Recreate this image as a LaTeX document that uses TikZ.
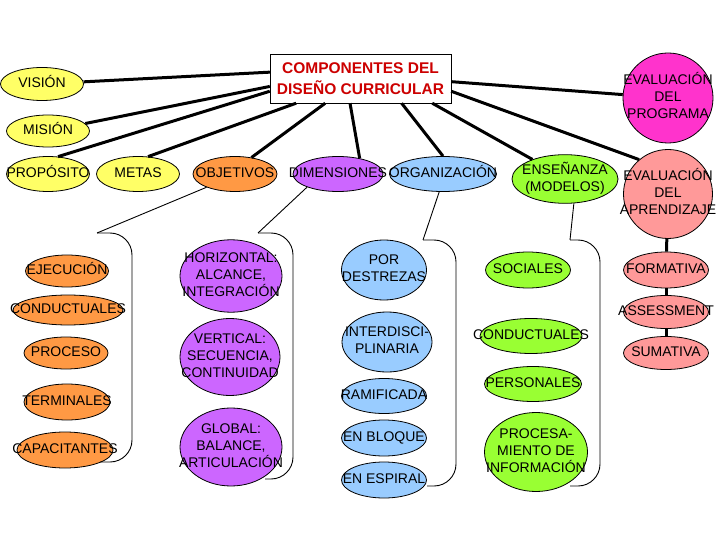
\documentclass[tikz,border=0pt]{standalone}
\usepackage{fontspec}
\setmainfont{Liberation Sans}
\usetikzlibrary{shapes.geometric}
\definecolor{softyellow}{RGB}{255,255,102}
\definecolor{softorange}{RGB}{255,153,68}
\definecolor{softpurple}{RGB}{204,102,255}
\definecolor{softblue}{RGB}{153,204,255}
\definecolor{softgreen}{RGB}{153,255,51}
\definecolor{softpink}{RGB}{255,51,204}
\definecolor{softred}{RGB}{255,153,153}
\definecolor{titlered}{RGB}{204,0,0}
\newcommand{\spill}[1]{\makebox[0pt]{\begin{tabular}{@{}c@{}}#1\end{tabular}}}

\begin{document}
\begin{tikzpicture}[
      x=1pt, y=-1pt,
      every node/.style={font=\fontsize{14}{17}\selectfont},
      blob/.style={draw, ellipse, inner sep=0pt, line width=0.8pt},
      yellownode/.style={blob, fill=softyellow},
      orangenode/.style={blob, fill=softorange},
      purplenode/.style={blob, fill=softpurple},
      bluenode/.style={blob, fill=softblue},
      greennode/.style={blob, fill=softgreen},
      pinknode/.style={draw, circle, inner sep=0pt, minimum size=90pt, line width=0.8pt, fill=softpink},
      rednode/.style={blob, fill=softred},
      headbox/.style={draw, fill=white, inner sep=0pt, minimum width=181pt, minimum height=49pt, align=center, text=titlered, font=\fontsize{15.5}{21}\selectfont\bfseries},
      link/.style={line width=3pt},
      thinlink/.style={line width=0.9pt},
      brace/.style={line width=0.9pt, rounded corners=22pt}
  ]
    \path[use as bounding box, fill=white] (0,0) rectangle (720,540);

    \node[headbox] (title) at (360.5,78.5) {COMPONENTES DEL\\DISEÑO CURRICULAR};

    \node[yellownode, minimum width=83pt, minimum height=33pt] (vision) at (42,84) {\spill{VISIÓN}};
    \node[yellownode, minimum width=83pt, minimum height=32pt] (mision) at (48,131) {\spill{MISIÓN}};
    \node[yellownode, minimum width=83pt, minimum height=35pt] (proposito) at (48,174) {\spill{PROPÓSITO}};
    \node[yellownode, minimum width=83pt, minimum height=35pt] (metas) at (138,174) {\spill{METAS}};
    \node[orangenode, minimum width=84pt, minimum height=35pt] (objetivos) at (235,174) {\spill{OBJETIVOS}};
    \node[purplenode, minimum width=90pt, minimum height=35pt] (dimensiones) at (338,174) {\spill{DIMENSIONES}};
    \node[bluenode, minimum width=107pt, minimum height=35pt] (organizacion) at (443,174) {\spill{ORGANIZACIÓN}};
    \node[greennode, minimum width=106pt, minimum height=48pt] (ensenanza) at (565,179) {\spill{ENSEÑANZA\\(MODELOS)}};
    \node[pinknode] (evalprog) at (668,98) {\spill{EVALUACIÓN\\DEL\\PROGRAMA}};
    \node[draw, circle, inner sep=0pt, minimum size=89pt, line width=0.8pt, fill=softred] (evalaprend) at (668,194) {\spill{EVALUACIÓN\\DEL\\APRENDIZAJE}};

    \node[orangenode, minimum width=83pt, minimum height=32pt] (ejecucion) at (67,271) {\spill{EJECUCIÓN}};
    \node[orangenode, minimum width=110pt, minimum height=30pt] (conductuales) at (68,310) {\spill{CONDUCTUALES}};
    \node[orangenode, minimum width=84pt, minimum height=32pt] (proceso) at (66,353) {\spill{PROCESO}};
    \node[orangenode, minimum width=86pt, minimum height=36pt] (terminales) at (67,402) {\spill{TERMINALES}};
    \node[orangenode, minimum width=96pt, minimum height=36pt] (capacitantes) at (65,450) {\spill{CAPACITANTES}};

    \node[purplenode, minimum width=102pt, minimum height=72pt] (horizontal) at (231,276) {\spill{HORIZONTAL:\\ALCANCE,\\INTEGRACIÓN}};
    \node[purplenode, minimum width=100pt, minimum height=77pt] (vertical) at (230,357) {\spill{VERTICAL:\\SECUENCIA,\\CONTINUIDAD}};
    \node[purplenode, minimum width=102pt, minimum height=78pt] (global) at (231,447) {\spill{GLOBAL:\\BALANCE,\\ARTICULACIÓN}};

    \node[bluenode, minimum width=85pt, minimum height=60pt] (destrezas) at (384,270) {\spill{POR\\DESTREZAS}};
    \node[bluenode, minimum width=90pt, minimum height=60pt] (interdisc) at (387,342) {\spill{INTERDISCI-\\PLINARIA}};
    \node[bluenode, minimum width=85pt, minimum height=35pt] (ramificada) at (384,396) {\spill{RAMIFICADA}};
    \node[bluenode, minimum width=85pt, minimum height=36pt] (bloque) at (384,438) {\spill{EN BLOQUE}};
    \node[bluenode, minimum width=85pt, minimum height=36pt] (espiral) at (384,480) {\spill{EN ESPIRAL}};

    \node[greennode, minimum width=85pt, minimum height=36pt] (sociales) at (528,270) {\spill{SOCIALES}};
    \node[greennode, minimum width=102pt, minimum height=35pt] (conducta) at (531,336) {\spill{CONDUCTUALES}};
    \node[greennode, minimum width=97pt, minimum height=35pt] (personales) at (533,384) {\spill{PERSONALES}};
    \node[greennode, minimum width=103pt, minimum height=79pt] (procesa) at (536,452) {\spill{PROCESA-\\MIENTO DE\\INFORMACIÓN}};

    \node[rednode, minimum width=85pt, minimum height=36pt] (formativa) at (666,270) {\spill{FORMATIVA}};
    \node[rednode, minimum width=85pt, minimum height=33pt] (assessment) at (666,312) {\spill{ASSESSMENT}};
    \node[rednode, minimum width=85pt, minimum height=33pt] (sumativa) at (666,353) {\spill{SUMATIVA}};

    \draw[link] (title.176) -- (vision);
    \draw[link] (title.185) -- (mision);
    \draw[link] (title.188) -- (proposito.60);
    \draw[link] (title.201) -- (metas.60);
    \draw[link] (title.215) -- (objetivos.45);
    \draw[link] (title.247) -- (dimensiones.36);
    \draw[link] (title.-31) -- (organizacion.north);
    \draw[link] (title.-19) -- (ensenanza.149);
    \draw[link] (title.-2) -- (evalprog);
    \draw[link] (title.-8) -- (evalaprend.130);
    \draw[link] (evalaprend) -- (formativa);
    \draw[link] (formativa) -- (assessment);
    \draw[link] (assessment) -- (sumativa);

    \coordinate (objtop) at (97,233);
    \coordinate (dimtop) at (258,233);
    \coordinate (orgtop) at (423,240);
    \coordinate (enstop) at (570,240);
    \draw[thinlink] (objetivos.205) -- (objtop);
    \draw[thinlink] (dimensiones.203) -- (dimtop);
    \draw[thinlink] (organizacion.258) -- (orgtop);
    \draw[thinlink] (ensenanza.290) -- (enstop);
    \draw[brace] (objtop) -| (132,462) -- (100,462);
    \draw[brace] (dimtop) -| (293,479) -- (265,479);
    \draw[brace] (orgtop) -| (456,486) -- (427,486);
    \draw[brace] (enstop) -| (600,486) -- (570,486);
  \end{tikzpicture}
\end{document}
